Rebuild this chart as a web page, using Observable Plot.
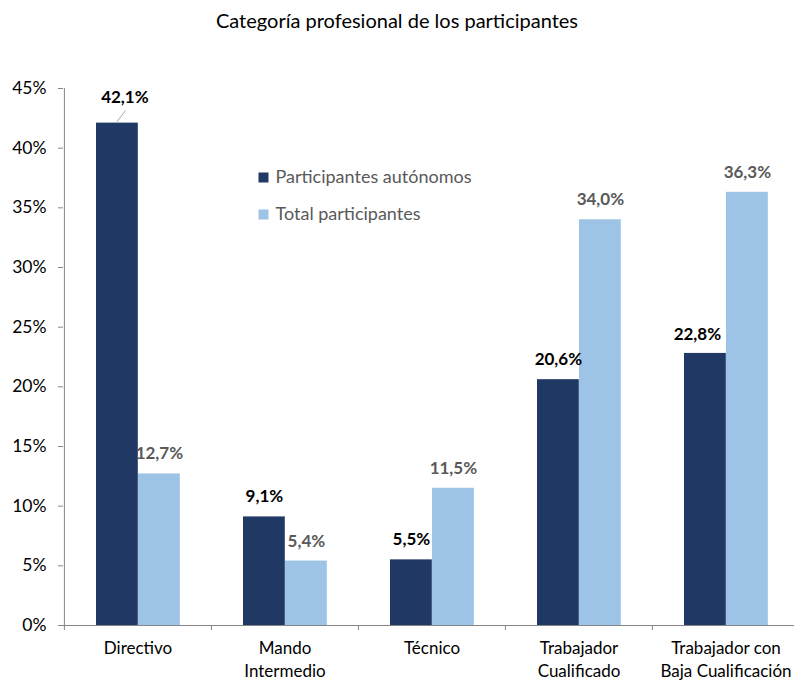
<!DOCTYPE html>
<html><head><meta charset="utf-8">
<script src="https://cdn.jsdelivr.net/npm/d3@7"></script>
<script src="https://cdn.jsdelivr.net/npm/@observablehq/plot@0.6"></script>
<style>
body{margin:0;overflow:hidden;background:#fff;font-family:Lato,sans-serif}
#title{height:40px;line-height:40px;text-align:center;font-size:20px;color:#000;width:794px}
</style></head><body>
<div id="title">Categoría profesional de los participantes</div>
<div id="chart"></div>
<script>
const categories = ["Directivo","Mando Intermedio","Técnico","Trabajador Cualificado","Trabajador con Baja Cualificación"];
const categoryLabels = ["Directivo","Mando\nIntermedio","Técnico","Trabajador\nCualificado","Trabajador con\nBaja Cualificación"];
const seriesNames = ["Participantes autónomos","Total participantes"];
const autonomos = [42.1, 9.1, 5.5, 20.6, 22.8];
const total = [12.7, 5.4, 11.5, 34.0, 36.3];
const yTicks = [0,5,10,15,20,25,30,35,40,45];

const DARK = "#203864", LIGHT = "#9DC3E6", AXIS = "#868686";
const rows = categories.map((c,i)=>({cat:c, aut:autonomos[i], tot:total[i], i}));
const fmt = v => v.toFixed(1).replace(".", ",") + "%";
const BW = (799-63)/5, HALF = BW/2;

const leader = (index, scales) => {
  const r = rows[0];
  const cx = scales.x(r.cat) + 53;
  const cy = scales.y(r.aut);
  const line = d3.create("svg:line")
    .attr("x1", cx).attr("y1", cy - 1)
    .attr("x2", cx + 8.5).attr("y2", cy - 12)
    .attr("stroke", "#A6A6A6").attr("stroke-width", 1);
  return line.node();
};

const chart = Plot.plot({
  width: 800, height: 640,
  marginLeft: 63, marginRight: 1, marginTop: 48, marginBottom: 55,
  style: "max-width:none;background:#fff;font-family:Lato,sans-serif;overflow:visible",
  x: {domain: categories, padding: 0, axis: null},
  y: {domain: [0,45], axis: null},
  marks: [
    Plot.barY(rows, {x:"cat", y:"aut", fill: DARK, insetLeft: 32, insetRight: BW-74}),
    Plot.barY(rows, {x:"cat", y:"tot", fill: LIGHT, insetLeft: 74, insetRight: BW-116}),
    Plot.ruleY([0], {stroke: AXIS}),
    Plot.ruleX([categories[0]], {dx: -HALF, y1: d=>0, y2: d=>45, stroke: AXIS}),
    Plot.ruleX(categories, {x: d=>d, dx: -HALF, y1: d=>0, y2: d=>0, insetBottom: -5, stroke: AXIS}),
    Plot.axisY({ticks: yTicks, tickFormat: d => d + "%", tickSize: 5, tickPadding: 12, stroke: AXIS, fill: "#000", fontSize: 17.5, label: null}),
    Plot.axisX({tickSize: 0, tickPadding: 12, label: null, tickFormat: d => categoryLabels[categories.indexOf(d)], fill: "#000", fontSize: 17, lineHeight: 1.35}),
    // value labels
    Plot.text(rows.filter(r => r.i !== 0 && r.i !== 4), {x:"cat", y:"aut", text: r => fmt(r.aut), dx: 53-HALF, dy: -20, fontWeight: "bold", fontSize: 17, fill: "#000"}),
    Plot.text(rows.filter(r => r.i === 0), {x:"cat", y:"aut", text: r => fmt(r.aut), dx: 53-HALF+7.5, dy: -26, fontWeight: "bold", fontSize: 17, fill: "#000"}),
    Plot.text(rows.filter(r => r.i === 4), {x:"cat", y:"aut", text: r => fmt(r.aut), dx: 53-HALF-8, dy: -19, fontWeight: "bold", fontSize: 17, fill: "#000"}),
    Plot.text(rows, {x:"cat", y:"tot", text: r => fmt(r.tot), dx: 95-HALF, dy: -20, fontWeight: "bold", fontSize: 17, fill: "#595959"}),
    leader,
    // legend
    Plot.dot([seriesNames[0]], {frameAnchor: "top-left", dx: 200, dy: 89, symbol: "square", r: 5.64, fill: DARK}),
    Plot.text([seriesNames[0]], {text: d=>d, frameAnchor: "top-left", dx: 212, dy: 89, textAnchor: "start", lineAnchor: "middle", fontSize: 18, fill: "#595959"}),
    Plot.dot([seriesNames[1]], {frameAnchor: "top-left", dx: 200, dy: 126, symbol: "square", r: 5.64, fill: LIGHT}),
    Plot.text([seriesNames[1]], {text: d=>d, frameAnchor: "top-left", dx: 212, dy: 126, textAnchor: "start", lineAnchor: "middle", fontSize: 18, fill: "#595959"})
  ]
});
document.getElementById("chart").appendChild(chart);
</script>
</body></html>
